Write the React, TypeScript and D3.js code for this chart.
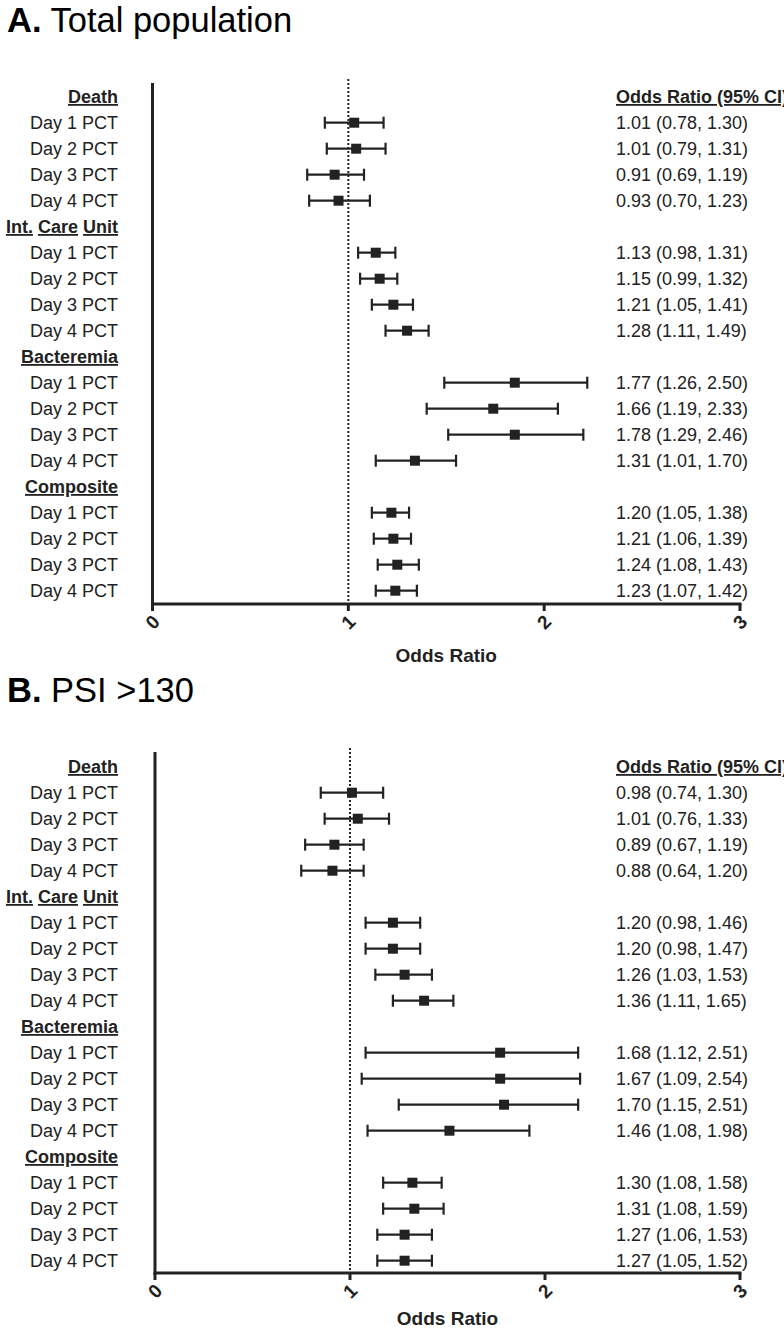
import React from "react";
import * as d3 from "d3";

const groups = ["Death", "Int. Care Unit", "Bacteremia", "Composite"];
const days = ["Day 1 PCT", "Day 2 PCT", "Day 3 PCT", "Day 4 PCT"];
const ticks = [0, 1, 2, 3];

const orA = [1.03, 1.04, 0.93, 0.95, 1.14, 1.16, 1.23, 1.3, 1.85, 1.74, 1.85, 1.34, 1.22, 1.23, 1.25, 1.24];
const lowA = [0.88, 0.89, 0.79, 0.8, 1.05, 1.06, 1.12, 1.19, 1.49, 1.4, 1.51, 1.14, 1.12, 1.13, 1.15, 1.14];
const highA = [1.18, 1.19, 1.08, 1.11, 1.24, 1.25, 1.33, 1.41, 2.22, 2.07, 2.2, 1.55, 1.31, 1.32, 1.36, 1.35];
const textA = [
  "1.01 (0.78, 1.30)", "1.01 (0.79, 1.31)", "0.91 (0.69, 1.19)", "0.93 (0.70, 1.23)",
  "1.13 (0.98, 1.31)", "1.15 (0.99, 1.32)", "1.21 (1.05, 1.41)", "1.28 (1.11, 1.49)",
  "1.77 (1.26, 2.50)", "1.66 (1.19, 2.33)", "1.78 (1.29, 2.46)", "1.31 (1.01, 1.70)",
  "1.20 (1.05, 1.38)", "1.21 (1.06, 1.39)", "1.24 (1.08, 1.43)", "1.23 (1.07, 1.42)",
];

// Panel B: PSI >130
const orB = [1.01, 1.04, 0.92, 0.91, 1.22, 1.22, 1.28, 1.38, 1.77, 1.77, 1.79, 1.51, 1.32, 1.33, 1.28, 1.28];
const lowB = [0.85, 0.87, 0.77, 0.75, 1.08, 1.08, 1.13, 1.22, 1.08, 1.06, 1.25, 1.09, 1.17, 1.17, 1.14, 1.14];
const highB = [1.17, 1.2, 1.07, 1.07, 1.36, 1.36, 1.42, 1.53, 2.17, 2.18, 2.17, 1.92, 1.47, 1.48, 1.42, 1.42];
const textB = [
  "0.98 (0.74, 1.30)", "1.01 (0.76, 1.33)", "0.89 (0.67, 1.19)", "0.88 (0.64, 1.20)",
  "1.20 (0.98, 1.46)", "1.20 (0.98, 1.47)", "1.26 (1.03, 1.53)", "1.36 (1.11, 1.65)",
  "1.68 (1.12, 2.51)", "1.67 (1.09, 2.54)", "1.70 (1.15, 2.51)", "1.46 (1.08, 1.98)",
  "1.30 (1.08, 1.58)", "1.31 (1.08, 1.59)", "1.27 (1.06, 1.53)", "1.27 (1.05, 1.52)",
];

const FONT = "'Liberation Sans', Arial, Helvetica, sans-serif";
const INK = "#222";

type PanelProps = {
  letter: string;
  subtitle: string;
  or: number[];
  low: number[];
  high: number[];
  text: string[];
  titleY: number;
  axisTop: number;
  axisY: number;
  firstRow: number;
  lastRow: number;
  x0: number;
  x3: number;
  axisTitleY: number;
};

function Header({ label, x, y }: { label: string; x: number; y: number }) {
  const words = label.split(" ");
  return (
    <text x={x} y={y} dy="0.35em" textAnchor="end" fontWeight="bold" fontSize={18} fill={INK}>
      {words.map((w, i) => (
        <React.Fragment key={i}>
          <tspan style={{ textDecoration: "underline" }}>{w}</tspan>
          {i < words.length - 1 ? <tspan> </tspan> : null}
        </React.Fragment>
      ))}
    </text>
  );
}

function Panel(p: PanelProps) {
  const rowKeys: string[] = [];
  groups.forEach((g, gi) => {
    rowKeys.push(`h${gi}`);
    days.forEach((_, di) => rowKeys.push(`r${gi}-${di}`));
  });
  const y = d3.scalePoint<string>().domain(rowKeys).range([p.firstRow, p.lastRow]);
  const x = d3.scaleLinear().domain([0, 3]).range([p.x0, p.x3]);
  const labelX = 118;
  const textX = 616;
  const sq = 10;
  const cap = 6;

  return (
    <g fontFamily={FONT}>
      <text x={7} y={p.titleY} fontSize={34.5} fill="#000">
        <tspan fontWeight="bold">{p.letter}</tspan>
        <tspan> {p.subtitle}</tspan>
      </text>

      {/* reference line at OR = 1 */}
      <line x1={x(1)} x2={x(1)} y1={p.axisTop - 4} y2={p.axisY} stroke={INK} strokeWidth={2} strokeDasharray="2,2" />

      {/* axes */}
      <line x1={x(0)} x2={x(0)} y1={p.axisTop} y2={p.axisY + 1.5} stroke={INK} strokeWidth={3} />
      <line x1={x(0) - 1.5} x2={x(3) + 1.5} y1={p.axisY} y2={p.axisY} stroke={INK} strokeWidth={3} />
      {ticks.map((t) => (
        <g key={t}>
          <line x1={x(t)} x2={x(t)} y1={p.axisY} y2={p.axisY + 7} stroke={INK} strokeWidth={3} />
          <text
            x={x(t)}
            y={p.axisY + 18}
            transform={`rotate(-45, ${x(t)}, ${p.axisY + 18})`}
            textAnchor="middle"
            dy="0.35em"
            fontSize={19}
            fontWeight="bold"
            fill={INK}
          >
            {t}
          </text>
        </g>
      ))}
      <text x={(x(0) + x(3)) / 2} y={p.axisTitleY} dy="0.35em" textAnchor="middle" fontWeight="bold" fontSize={19} fill={INK}>
        Odds Ratio
      </text>

      {/* right column header */}
      <text x={textX} y={y("h0")!} dy="0.35em" fontWeight="bold" fontSize={18} fill={INK} style={{ textDecoration: "underline" }}>
        Odds Ratio (95% CI)
      </text>

      {groups.map((g, gi) => (
        <g key={g}>
          <Header label={g} x={labelX} y={y(`h${gi}`)!} />
          {days.map((d, di) => {
            const i = gi * 4 + di;
            const yy = y(`r${gi}-${di}`)!;
            return (
              <g key={d}>
                <text x={labelX} y={yy} dy="0.35em" textAnchor="end" fontSize={18} fill={INK}>
                  {d}
                </text>
                <line x1={x(p.low[i])} x2={x(p.high[i])} y1={yy} y2={yy} stroke={INK} strokeWidth={2.2} />
                <line x1={x(p.low[i])} x2={x(p.low[i])} y1={yy - cap} y2={yy + cap} stroke={INK} strokeWidth={2.2} />
                <line x1={x(p.high[i])} x2={x(p.high[i])} y1={yy - cap} y2={yy + cap} stroke={INK} strokeWidth={2.2} />
                <rect x={x(p.or[i]) - sq / 2} y={yy - sq / 2} width={sq} height={sq} fill={INK} />
                <text x={textX} y={yy} dy="0.35em" fontSize={18} fill={INK}>
                  {p.text[i]}
                </text>
              </g>
            );
          })}
        </g>
      ))}
    </g>
  );
}

export default function App() {
  return (
    <svg
      width={784}
      height={1328}
      style={{ position: "absolute", left: 0, top: 0, background: "#fff", overflow: "hidden" }}
    >
      <rect width={784} height={1328} fill="#fff" />
      <Panel
        letter="A."
        subtitle="Total population"
        or={orA}
        low={lowA}
        high={highA}
        text={textA}
        titleY={32}
        axisTop={83}
        axisY={604}
        firstRow={96.7}
        lastRow={590.7}
        x0={152.5}
        x3={740}
        axisTitleY={655}
      />
      <Panel
        letter="B."
        subtitle="PSI >130"
        or={orB}
        low={lowB}
        high={highB}
        text={textB}
        titleY={702}
        axisTop={752}
        axisY={1273}
        firstRow={766.7}
        lastRow={1260.7}
        x0={155}
        x3={740}
        axisTitleY={1318}
      />
    </svg>
  );
}
